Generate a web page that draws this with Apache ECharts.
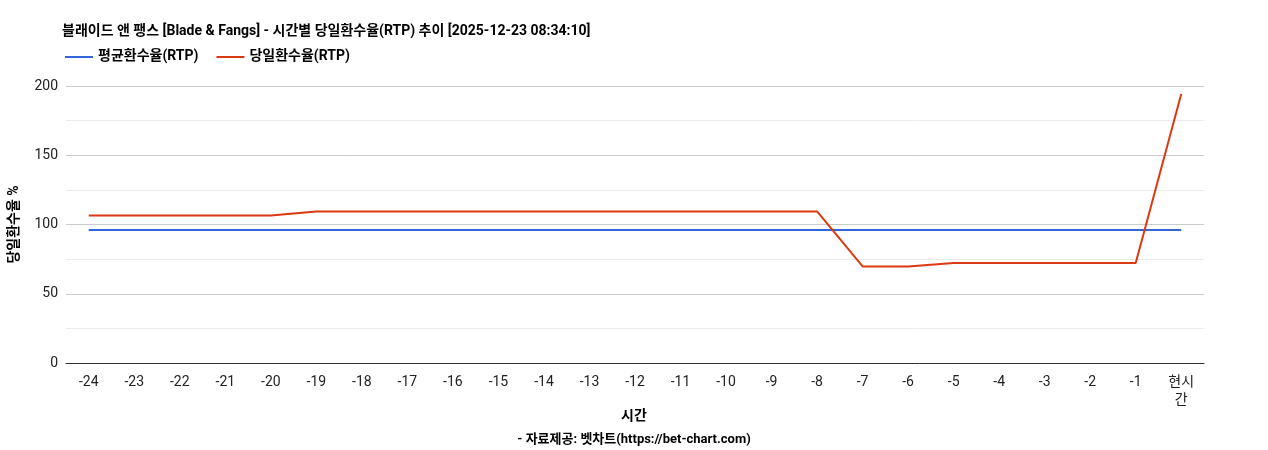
<!DOCTYPE html>
<html>
<head>
<meta charset="utf-8">
<script src="https://cdn.jsdelivr.net/npm/echarts@6/dist/echarts.min.js"></script>
<style>
  html, body { margin: 0; padding: 0; background: #fff; }
  #chart { width: 1268px; height: 450px; }
</style>
</head>
<body>
<div id="chart"></div>
<script>
var hours = ['-24','-23','-22','-21','-20','-19','-18','-17','-16','-15','-14','-13','-12','-11','-10','-9','-8','-7','-6','-5','-4','-3','-2','-1','현시\n간'];
var avgRtp = [96,96,96,96,96,96,96,96,96,96,96,96,96,96,96,96,96,96,96,96,96,96,96,96,96];
var dayRtp = [106.5,106.5,106.5,106.5,106.5,109.4,109.4,109.4,109.4,109.4,109.4,109.4,109.4,109.4,109.4,109.4,109.4,69.7,69.7,72.2,72.2,72.2,72.2,72.2,194.2];

var font = 'Roboto, "Noto Sans CJK KR", sans-serif';
var chart = echarts.init(document.getElementById('chart'));
chart.setOption({
  animation: false,
  textStyle: { fontFamily: font },
  title: [{
    text: '블래이드 앤 팽스 [Blade & Fangs] - 시간별 당일환수율(RTP) 추이 [2025-12-23 08:34:10]',
    left: 57, top: 20,
    textStyle: { fontSize: 14, fontWeight: 'bold', color: '#000', fontFamily: font }
  }, {
    text: '시간',
    left: 'center', top: 405,
    textStyle: { fontSize: 14, fontWeight: 'bold', color: '#000', fontFamily: font }
  }, {
    text: '- 자료제공: 벳차트(https://bet-chart.com)',
    left: 'center', top: 428,
    textStyle: { fontSize: 13, fontWeight: 'bold', color: '#000', fontFamily: font }
  }],
  legend: {
    left: 60, top: 45, itemWidth: 28, itemHeight: 2, itemGap: 18,
    icon: 'rect',
    textStyle: { fontSize: 14, fontWeight: 'bold', color: '#000', fontFamily: font },
    data: ['평균환수율(RTP)', '당일환수율(RTP)']
  },
  grid: { left: 64, right: 64, top: 86, bottom: 87 },
  xAxis: {
    type: 'category', data: hours, boundaryGap: true,
    axisLine: { lineStyle: { color: '#333' } },
    axisTick: { show: false },
    axisLabel: { color: '#222', fontSize: 14, margin: 10, interval: 0, lineHeight: 18 }
  },
  yAxis: {
    type: 'value', min: 0, max: 200, interval: 50,
    name: '당일환수율 %', nameLocation: 'middle', nameGap: 44, nameRotate: 90,
    nameTextStyle: { fontSize: 14, fontWeight: 'bold', color: '#000' },
    axisLine: { show: false }, axisTick: { show: false },
    axisLabel: { color: '#222', fontSize: 14, margin: 8 },
    splitLine: { lineStyle: { color: '#ccc' } },
    minorTick: { show: false, splitNumber: 2 },
    minorSplitLine: { show: true, lineStyle: { color: '#ebebeb' } }
  },
  series: [{
    name: '평균환수율(RTP)', type: 'line', data: avgRtp,
    showSymbol: false, symbol: 'none',
    lineStyle: { color: '#3366dd', width: 2 }, itemStyle: { color: '#3366dd' }
  }, {
    name: '당일환수율(RTP)', type: 'line', data: dayRtp,
    showSymbol: false, symbol: 'none',
    lineStyle: { color: '#dc3912', width: 2 }, itemStyle: { color: '#dc3912' }
  }]
});
</script>
</body>
</html>
